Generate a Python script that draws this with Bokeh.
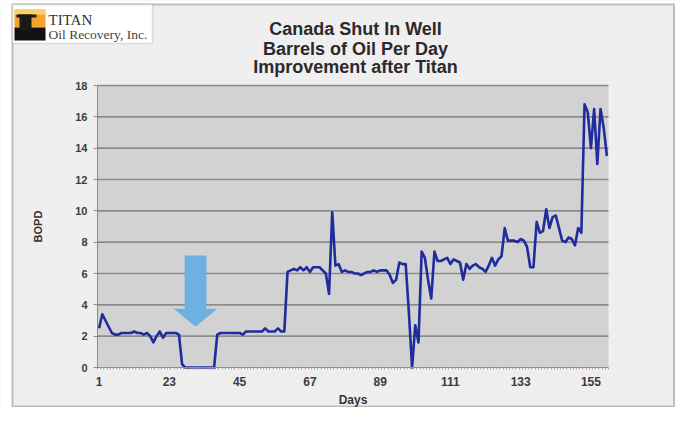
from bokeh.plotting import figure
from bokeh.models import (Range1d, FixedTicker, BoxAnnotation, Label, LinearAxis,
                          ColumnDataSource)
from bokeh.embed import file_html
from bokeh.resources import INLINE

# ---------------- data ----------------
title_lines = ["Canada Shut In Well", "Barrels of Oil Per Day", "Improvement after Titan"]
logo_name = "TITAN"
logo_sub = "Oil Recovery, Inc."
x_label = "Days"
y_label = "BOPD"
x_tick_days = [1, 23, 45, 67, 89, 111, 133, 155]
y_ticks = [0, 2, 4, 6, 8, 10, 12, 14, 16, 18]
bopd = [
    2.5, 3.4, 3.0, 2.6, 2.2, 2.1, 2.1, 2.2, 2.2, 2.2,
    2.2, 2.3, 2.2, 2.2, 2.1, 2.2, 2.0, 1.6, 2.0, 2.3,
    1.9, 2.2, 2.2, 2.2, 2.2, 2.1, 0.2, 0.0, 0.0, 0.0,
    0.0, 0.0, 0.0, 0.0, 0.0, 0.0, 0.0, 2.1, 2.2, 2.2,
    2.2, 2.2, 2.2, 2.2, 2.2, 2.1, 2.3, 2.3, 2.3, 2.3,
    2.3, 2.3, 2.5, 2.3, 2.3, 2.3, 2.5, 2.3, 2.3, 6.1,
    6.2, 6.3, 6.2, 6.4, 6.2, 6.4, 6.1, 6.4, 6.4, 6.4,
    6.2, 6.0, 4.7, 9.9, 6.5, 6.6, 6.1, 6.2, 6.1, 6.1,
    6.0, 6.0, 5.9, 6.0, 6.1, 6.1, 6.2, 6.1, 6.2, 6.2,
    6.2, 5.9, 5.4, 5.6, 6.7, 6.6, 6.6, 3.5, 0.0, 2.7,
    1.6, 7.4, 7.0, 5.6, 4.4, 7.4, 6.8, 6.8, 6.9, 7.0,
    6.6, 6.9, 6.8, 6.7, 5.6, 6.6, 6.3, 6.5, 6.6, 6.4,
    6.3, 6.1, 6.5, 7.0, 6.5, 6.9, 7.1, 8.9, 8.1, 8.1,
    8.1, 8.0, 8.2, 8.1, 7.7, 6.4, 6.4, 9.3, 8.6, 8.7,
    10.1, 8.9, 9.6, 9.7, 8.9, 8.1, 8.0, 8.3, 8.2, 7.8,
    8.9, 8.6, 16.8, 16.3, 14.0, 16.5, 13.0, 16.5, 15.3, 13.5,
]
days = list(range(1, len(bopd) + 1))

# arrow marking the shut-in period (day / BOPD coordinates)
arrow_tip = (31.2, 2.6)
arrow_shaft_half = 3.4
arrow_head_half = 6.8
arrow_top = 7.15
arrow_head_base = 3.75

# ---------------- layout (pixels within the canvas) ----------------
W, H = 675, 407
PL, PR, PT, PB = 97, 608, 85, 367          # plot-area edges
x0, x1 = 0.5, len(bopd) + 0.5
y0, y1 = 0.0, 18.0
kx = (x1 - x0) / (PR - PL)
ky = (y1 - y0) / (PB - PT)

p = figure(width=W, height=H, output_backend="svg", toolbar_location=None,
           x_range=Range1d(x0 - PL * kx, x1 + (W - PR) * kx),
           y_range=Range1d(y0 - (H - PB) * ky, y1 + PT * ky),
           x_axis_location=None, y_axis_location=None,
           min_border=0)
p.border_fill_color = "#efefef"
p.background_fill_color = "#efefef"
p.outline_line_color = None
p.xgrid.grid_line_color = None
p.ygrid.grid_line_color = None

# plot area
p.add_layout(BoxAnnotation(left=x0, right=x1, bottom=y0, top=y1,
                           fill_color="#d2d2d2", fill_alpha=1, line_color=None,
                           level="image"))

# horizontal grid lines across the plot area
grid_y = y_ticks[1:]
p.segment(x0=[x0] * len(grid_y), x1=[x1] * len(grid_y), y0=grid_y, y1=grid_y,
          line_color="#8c8c8c", line_width=1.6)

# axes (fixed at the plot-area edges)
xa = LinearAxis(fixed_location=y0, bounds=(x0, x1))
ya = LinearAxis(fixed_location=x0, bounds=(y0, y1))
p.add_layout(xa, "below")
p.add_layout(ya, "left")

xa.ticker = FixedTicker(ticks=x_tick_days,
                        minor_ticks=[d + 0.5 for d in range(0, len(bopd) + 1)])
xa.axis_line_color = "#8a8a8a"
xa.major_tick_line_color = None
xa.major_tick_out = 0
xa.major_tick_in = 0
xa.minor_tick_line_color = "#a8a8a8"
xa.minor_tick_out = 2
xa.minor_tick_in = 0
xa.major_label_standoff = 7
xa.major_label_text_font = "Liberation Sans"
xa.major_label_text_font_size = "12px"
xa.major_label_text_font_style = "bold"
xa.major_label_text_color = "#3c3c3c"
xa.axis_label = x_label
xa.axis_label_text_font = "Liberation Sans"
xa.axis_label_text_font_size = "12px"
xa.axis_label_text_font_style = "bold"
xa.axis_label_text_color = "#333333"
xa.axis_label_standoff = 4

ya.ticker = FixedTicker(ticks=y_ticks)
ya.axis_line_color = "#8a8a8a"
ya.major_tick_line_color = "#8a8a8a"
ya.major_tick_out = 4
ya.major_tick_in = 0
ya.minor_tick_line_color = None
ya.major_label_standoff = 6
ya.major_label_text_font = "Liberation Sans"
ya.major_label_text_font_size = "11px"
ya.major_label_text_font_style = "bold"
ya.major_label_text_color = "#3c3c3c"
ya.axis_label = y_label
ya.axis_label_text_font = "Liberation Sans"
ya.axis_label_text_font_size = "11px"
ya.axis_label_text_font_style = "bold"
ya.axis_label_text_color = "#333333"
ya.axis_label_standoff = 28

# arrow
tx, ty = arrow_tip
ax = [tx - arrow_shaft_half, tx + arrow_shaft_half, tx + arrow_shaft_half,
      tx + arrow_head_half, tx, tx - arrow_head_half, tx - arrow_shaft_half]
ay = [arrow_top, arrow_top, arrow_head_base, arrow_head_base, ty,
      arrow_head_base, arrow_head_base]
p.patch(ax, ay, fill_color="#6db0e2", line_color=None)

# data line
src = ColumnDataSource(dict(day=days, bopd=bopd))
p.line("day", "bopd", source=src, line_color="#1f2c9e", line_width=2.6,
       line_join="round")

# canvas pixel -> screen units (frame == canvas, y measured upward)
def sx(px):
    return px

def sy(py):
    return H - py

def sbox(l, t, r, b, **kw):
    return BoxAnnotation(left=sx(l), right=sx(r), top=sy(t), bottom=sy(b),
                         left_units="screen", right_units="screen",
                         top_units="screen", bottom_units="screen", **kw)

# outer frame
p.add_layout(sbox(0, 0, 11, H, fill_color="white", fill_alpha=1, line_color=None))
p.add_layout(sbox(0, 0, W, 3, fill_color="white", fill_alpha=1, line_color=None))
p.add_layout(sbox(12, 4, 673.5, 406, fill_color=None, line_color="#4a4a4a", line_width=2))

# logo
p.add_layout(sbox(12, 4, 152, 43, fill_color="white", fill_alpha=1,
                  line_color="#9a9a9a", line_width=1.5))
p.add_layout(sbox(14, 9, 45, 27, fill_color="#f2a52a", fill_alpha=1, line_color=None))
p.add_layout(sbox(14, 9, 45, 14, fill_color="#f7d36a", fill_alpha=1, line_color=None))
p.add_layout(sbox(14, 27, 45, 40, fill_color="#111111", fill_alpha=1, line_color=None))
p.add_layout(sbox(19, 14, 31, 30, fill_color="#1a1a1a", fill_alpha=1, line_color=None))
p.add_layout(sbox(16, 14, 36, 17, fill_color="#1a1a1a", fill_alpha=1, line_color=None))
p.add_layout(Label(x=sx(48), y=sy(19), x_units="screen", y_units="screen",
                   text=logo_name, text_font="Liberation Serif", text_font_size="15px",
                   text_color="#333333", text_baseline="middle", text_align="left"))
p.add_layout(Label(x=sx(48), y=sy(34), x_units="screen", y_units="screen",
                   text=logo_sub, text_font="Liberation Serif",
                   text_font_size="13.5px", text_color="#444444",
                   text_baseline="middle", text_align="left"))

# title lines
for txt, yc in zip(title_lines, [28, 48, 66.5]):
    p.add_layout(Label(x=sx(355), y=sy(yc), x_units="screen", y_units="screen",
                       text=txt, text_font="Liberation Sans", text_font_size="18px",
                       text_font_style="bold", text_color="#2a2a2a",
                       text_align="center", text_baseline="middle"))

open("out.html", "w").write(file_html(p, INLINE))
